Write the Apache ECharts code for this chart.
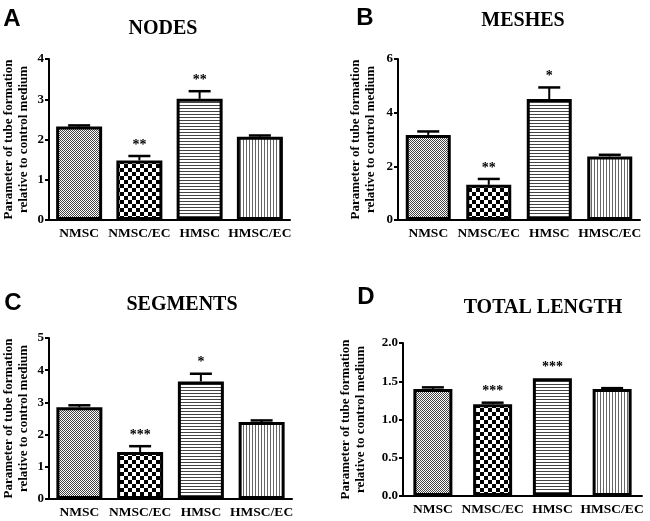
<!DOCTYPE html>
<html>
<head>
<meta charset="utf-8">
<script src="https://cdn.jsdelivr.net/npm/echarts@6/dist/echarts.min.js"></script>
<style>
  html, body { margin: 0; padding: 0; background: #fff; }
  #main { width: 650px; height: 521px; }
</style>
</head>
<body>
<div id="main"></div>
<script>
// groups on the x axis
var categories = ['NMSC', 'NMSC/EC', 'HMSC', 'HMSC/EC'];

// mean, SEM (upper error only) and significance marks
var nodesMean = [2.32, 1.48, 3.01, 2.07];
var nodesSem = [0.03, 0.11, 0.19, 0.03];
var nodesStars = ['', '**', '**', ''];

var meshesMean = [3.17, 1.31, 4.51, 2.37];
var meshesSem = [0.13, 0.22, 0.43, 0.06];
var meshesStars = ['', '**', '*', ''];

var segmentsMean = [2.85, 1.46, 3.65, 2.39];
var segmentsSem = [0.06, 0.18, 0.24, 0.05];
var segmentsStars = ['', '***', '*', ''];

var lengthMean = [1.40, 1.20, 1.54, 1.40];
var lengthSem = [0.02, 0.02, 0.0, 0.01];
var lengthStars = ['', '***', '***', ''];

var yTicksNodes = {max: 4, interval: 1};
var yTicksMeshes = {max: 6, interval: 2};
var yTicksSegments = {max: 5, interval: 1};
var yTicksLength = {max: 2, interval: 0.5};

var myChart = echarts.init(document.getElementById('main'));

// fill patterns for the 4 groups
function makePattern(w, h, draw) {
    var c = document.createElement('canvas');
    c.width = w;
    c.height = h;
    var ctx = c.getContext('2d');
    ctx.fillStyle = '#fff';
    ctx.fillRect(0, 0, w, h);
    draw(ctx);
    return {image: c, repeat: 'repeat'};
}
var fineChecker = makePattern(2, 2, function (ctx) {
    ctx.fillStyle = '#444';
    ctx.fillRect(0, 0, 1, 1);
    ctx.fillRect(1, 1, 1, 1);
});
var coarseChecker = makePattern(8, 8, function (ctx) {
    ctx.fillStyle = '#000';
    ctx.fillRect(0, 0, 4, 4);
    ctx.fillRect(4, 4, 4, 4);
});
var hLines = makePattern(1, 3, function (ctx) {
    ctx.fillStyle = '#444';
    ctx.fillRect(0, 0, 1, 1);
});
var vLines = makePattern(3, 1, function (ctx) {
    ctx.fillStyle = '#666';
    ctx.fillRect(0, 0, 1, 1);
});
var patterns = [fineChecker, coarseChecker, hLines, vLines];

var serif = '"Liberation Serif", "DejaVu Serif", serif';
var textStyle = {fontFamily: serif, fontWeight: 'bold', fontSize: 13, color: '#000'};

var panels = [
    {mean: nodesMean, sem: nodesSem, stars: nodesStars, ticks: yTicksNodes,
     grid: {left: 49, top: 59, width: 241, height: 161}, barWidth: 46, nameGap: 18, dec: 0},
    {mean: meshesMean, sem: meshesSem, stars: meshesStars, ticks: yTicksMeshes,
     grid: {left: 398, top: 59, width: 242, height: 161}, barWidth: 45, nameGap: 20, dec: 0},
    {mean: segmentsMean, sem: segmentsSem, stars: segmentsStars, ticks: yTicksSegments,
     grid: {left: 49, top: 338, width: 243, height: 161}, barWidth: 46, nameGap: 18, dec: 0},
    {mean: lengthMean, sem: lengthSem, stars: lengthStars, ticks: yTicksLength,
     grid: {left: 403, top: 343, width: 239, height: 153}, barWidth: 39, nameGap: 35, dec: 1}
];

var grids = [], xAxes = [], yAxes = [], series = [];

panels.forEach(function (p, k) {
    grids.push(p.grid);
    xAxes.push({
        type: 'category',
        gridIndex: k,
        data: categories,
        axisLine: {lineStyle: {color: '#000', width: 2}},
        axisTick: {show: false},
        axisLabel: Object.assign({margin: 7, interval: 0}, textStyle, {fontSize: 13.5})
    });
    yAxes.push({
        type: 'value',
        gridIndex: k,
        min: 0,
        max: p.ticks.max,
        interval: p.ticks.interval,
        name: 'Parameter of tube formation\nrelative to control medium',
        nameLocation: 'middle',
        nameGap: p.nameGap,
        nameTextStyle: Object.assign({lineHeight: 15}, textStyle),
        splitLine: {show: false},
        axisLine: {show: true, lineStyle: {color: '#000', width: 2}},
        axisTick: {show: true, length: 4, lineStyle: {color: '#000', width: 2}},
        axisLabel: Object.assign({
            margin: 5,
            formatter: function (v) { return v.toFixed(p.dec); }
        }, textStyle)
    });
    series.push({
        type: 'bar',
        xAxisIndex: k,
        yAxisIndex: k,
        barWidth: p.barWidth,
        data: p.mean.map(function (v, i) {
            return {value: v, itemStyle: {color: patterns[i]}};
        }),
        itemStyle: {borderColor: '#000', borderWidth: 3},
        silent: true
    });
    series.push({
        type: 'custom',
        xAxisIndex: k,
        yAxisIndex: k,
        z: 3,
        silent: true,
        data: p.mean.map(function (v, i) { return [i, v, p.sem[i]]; }),
        renderItem: function (params, api) {
            var i = api.value(0);
            var top = api.coord([i, api.value(1)]);
            var hi = api.coord([i, api.value(1) + api.value(2)]);
            var kids = [];
            if (api.value(2) > 0) {
                kids.push({type: 'line', shape: {x1: top[0], y1: top[1], x2: hi[0], y2: hi[1]},
                           style: {stroke: '#000', lineWidth: 2}});
                kids.push({type: 'line', shape: {x1: hi[0] - 11, y1: hi[1], x2: hi[0] + 11, y2: hi[1]},
                           style: {stroke: '#000', lineWidth: 2.5}});
            }
            var s = p.stars[params.dataIndex];
            if (s) {
                kids.push({type: 'text', x: hi[0], y: hi[1] - 4,
                           style: {text: s, fill: '#000', align: 'center', verticalAlign: 'bottom',
                                   font: 'bold 14px ' + serif}});
            }
            return {type: 'group', children: kids};
        }
    });
});

function label(text, x, y, font) {
    return {type: 'text', x: x, y: y,
            style: {text: text, fill: '#000', align: 'center', verticalAlign: 'middle', font: font}};
}
var titleFont = 'bold 20px ' + serif;
var letterFont = 'bold 24px "Liberation Sans", Arial, sans-serif';

option = {
    animation: false,
    backgroundColor: '#fff',
    grid: grids,
    xAxis: xAxes,
    yAxis: yAxes,
    series: series,
    graphic: [
        label('A', 12, 19, letterFont),
        label('B', 365, 18, letterFont),
        label('C', 13, 303, letterFont),
        label('D', 366, 297, letterFont),
        label('NODES', 163, 29, titleFont),
        label('MESHES', 523, 21, titleFont),
        label('SEGMENTS', 182, 305, titleFont),
        label('TOTAL LENGTH', 543, 308, titleFont)
    ]
};

myChart.setOption(option);
</script>
</body>
</html>
